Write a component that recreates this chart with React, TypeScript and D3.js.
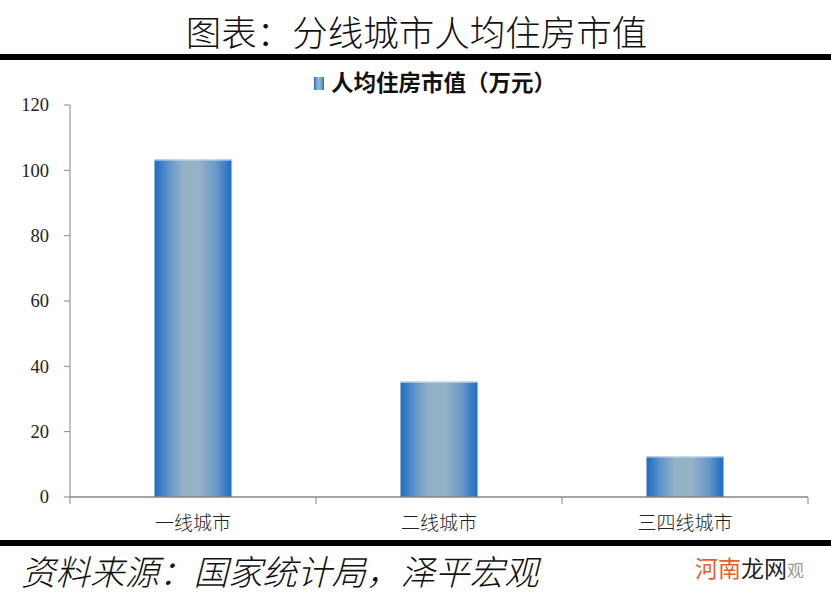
import React from "react";
import * as d3 from "d3";

const title = "图表：分线城市人均住房市值";
const seriesName = "人均住房市值（万元）";
const categories = ["一线城市", "二线城市", "三四线城市"];
const values = [103.3, 35.3, 12.4];
const yTicks = [0, 20, 40, 60, 80, 100, 120];
const sourceText = "资料来源：国家统计局，泽平宏观";

const W = 831;
const H = 602;
const plot = { left: 70, right: 808, top: 105, bottom: 497 };

export default function App() {
  const x = d3.scaleBand<string>().domain(categories).range([plot.left, plot.right]).padding(0);
  const y = d3.scaleLinear().domain([0, 120]).range([plot.bottom, plot.top]);
  const barW = x.bandwidth() * 0.313;
  const cjk = "'Noto Sans CJK SC', sans-serif";
  const serif = "'Liberation Serif', 'DejaVu Serif', serif";
  const boundaries = [...categories.map((c) => x(c) as number), plot.right];

  return (
    <svg
      width={W}
      height={H}
      viewBox={`0 0 ${W} ${H}`}
      style={{ position: "absolute", left: 0, top: 0, display: "block", background: "#fff" }}
    >
      <defs>
        <linearGradient id="barGrad" x1="0" x2="1" y1="0" y2="0">
          <stop offset="0" stopColor="#1b6dc3" />
          <stop offset="0.18" stopColor="#5f93c9" />
          <stop offset="0.36" stopColor="#92b1c7" />
          <stop offset="0.58" stopColor="#95b3c5" />
          <stop offset="0.8" stopColor="#6a98c9" />
          <stop offset="1" stopColor="#1b6dc3" />
        </linearGradient>
      </defs>

      {/* Title */}
      <text x={W / 2 + 1} y={46} textAnchor="middle" fontFamily={cjk} fontSize={35.5} fontWeight={300} fill="#111">
        {title}
      </text>
      <rect x={0} y={54} width={W} height={6} fill="#000" />

      {/* Legend */}
      <rect x={314} y={77} width={10} height={13} fill="url(#barGrad)" />
      <text x={331} y={91} fontFamily={cjk} fontSize={22.5} fontWeight="bold" fill="#111">
        {seriesName}
      </text>

      {/* Y axis */}
      <line x1={plot.left} x2={plot.left} y1={plot.top} y2={plot.bottom} stroke="#868686" strokeWidth={1} />
      {yTicks.map((t) => (
        <g key={t}>
          <line x1={plot.left - 6} x2={plot.left} y1={y(t)} y2={y(t)} stroke="#868686" />
          <text
            x={49}
            y={y(t)}
            dy="0.35em"
            textAnchor="end"
            fontFamily={serif}
            fontSize={18.5}
            fill="#222"
          >
            {t}
          </text>
        </g>
      ))}

      {/* Bars */}
      {categories.map((c, i) => {
        const cx = (x(c) as number) + x.bandwidth() / 2;
        const top = y(values[i]);
        return (
          <g key={c}>
            <rect x={cx - barW / 2} y={top} width={barW} height={plot.bottom - top} fill="url(#barGrad)" />
            <line x1={cx - barW / 2} x2={cx + barW / 2} y1={top + 0.5} y2={top + 0.5} stroke="#c9dcef" strokeWidth={1} />
          </g>
        );
      })}

      {/* X axis */}
      <line x1={plot.left} x2={plot.right} y1={plot.bottom} y2={plot.bottom} stroke="#868686" strokeWidth={1.5} />
      {boundaries.map((b, i) => (
        <line key={i} x1={b} x2={b} y1={plot.bottom} y2={plot.bottom + 7} stroke="#868686" />
      ))}
      {categories.map((c) => (
        <text
          key={c}
          x={(x(c) as number) + x.bandwidth() / 2}
          y={530}
          textAnchor="middle"
          fontFamily={cjk}
          fontSize={19}
          fontWeight={300}
          fill="#222"
        >
          {c}
        </text>
      ))}

      {/* Bottom rule */}
      <rect x={0} y={540} width={W} height={6} fill="#000" />

      {/* Source */}
      <text x={21} y={585} fontFamily={cjk} fontSize={34.5} fontStyle="italic" fontWeight={300} fill="#111">
        {sourceText}
      </text>

      {/* Watermark */}
      <text x={695} y={577} fontFamily={cjk} fontSize={23}>
        <tspan fill="#e0622a">河南</tspan>
        <tspan fill="#222">龙网</tspan>
        <tspan fill="#999" fontSize={17}>观</tspan>
      </text>
    </svg>
  );
}
